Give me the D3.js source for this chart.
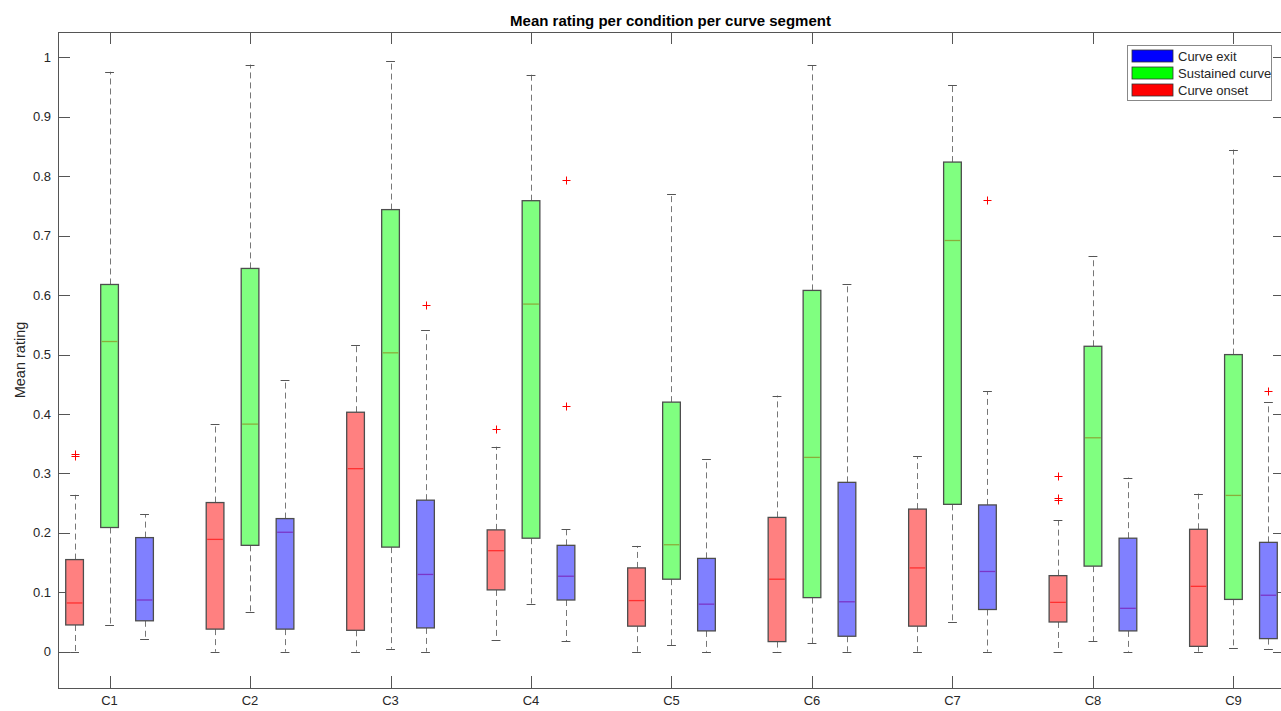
<!DOCTYPE html>
<html>
<head>
<meta charset="utf-8">
<script src="https://cdn.jsdelivr.net/npm/d3@7"></script>
<style>
  body { margin: 0; background: #fff; }
  text { font-family: "Liberation Sans", Arial, sans-serif; fill: #262626; }
</style>
</head>
<body>
<svg id="chart" width="1281" height="711"></svg>
<script>
const categories = ['C1', 'C2', 'C3', 'C4', 'C5', 'C6', 'C7', 'C8', 'C9'];
const yTicks = [0, 0.1, 0.2, 0.3, 0.4, 0.5, 0.6, 0.7, 0.8, 0.9, 1];

// five numbers per condition: [lower whisker, q1, median, q3, upper whisker]
const onsetStats = [
  [0, 0.045, 0.082, 0.155, 0.264],
  [0, 0.038, 0.189, 0.251, 0.384],
  [0, 0.036, 0.308, 0.403, 0.516],
  [0.020, 0.104, 0.170, 0.205, 0.345],
  [0, 0.043, 0.086, 0.141, 0.178],
  [0, 0.017, 0.122, 0.226, 0.431],
  [0, 0.043, 0.141, 0.240, 0.329],
  [0, 0.050, 0.083, 0.128, 0.221],
  [0, 0.009, 0.110, 0.206, 0.266]
];
const sustainedStats = [
  [0.045, 0.209, 0.522, 0.618, 0.976],
  [0.066, 0.179, 0.383, 0.645, 0.988],
  [0.005, 0.176, 0.503, 0.744, 0.994],
  [0.081, 0.191, 0.585, 0.759, 0.971],
  [0.011, 0.122, 0.180, 0.420, 0.771],
  [0.014, 0.091, 0.327, 0.608, 0.987],
  [0.050, 0.248, 0.692, 0.824, 0.954],
  [0.018, 0.144, 0.360, 0.514, 0.666],
  [0.007, 0.088, 0.263, 0.500, 0.845]
];
const exitStats = [
  [0.022, 0.052, 0.087, 0.192, 0.231],
  [0, 0.038, 0.201, 0.224, 0.458],
  [0, 0.040, 0.130, 0.255, 0.541],
  [0.018, 0.087, 0.127, 0.179, 0.207],
  [0, 0.035, 0.080, 0.157, 0.324],
  [0, 0.026, 0.084, 0.285, 0.618],
  [0, 0.071, 0.135, 0.247, 0.438],
  [0, 0.035, 0.073, 0.191, 0.293],
  [0.005, 0.022, 0.095, 0.184, 0.420]
];
// outliers: [condition index, value]
const onsetOutliers = [[0, 0.330], [0, 0.332], [3, 0.375], [7, 0.295], [7, 0.258], [7, 0.255]];
const sustainedOutliers = [];
const exitOutliers = [[2, 0.583], [3, 0.413], [3, 0.794], [6, 0.761], [8, 0.438]];

const series = [
  { name: 'Curve onset', stats: onsetStats, outliers: onsetOutliers, offset: -0.249,
    fill: '#ff8080', median: '#ff3030', swatch: '#ff0000' },
  { name: 'Sustained curve', stats: sustainedStats, outliers: sustainedOutliers, offset: 0,
    fill: '#80ff80', median: '#8aad3a', swatch: '#00ff00' },
  { name: 'Curve exit', stats: exitStats, outliers: exitOutliers, offset: 0.249,
    fill: '#8080ff', median: '#7a35c8', swatch: '#0000ff' }
];

const LEFT = 58, RIGHT = 1285, TOP = 32, BOTTOM = 688;
const BOXW = 0.126;
const TICKLEN = 12;

const svg = d3.select('#chart');

const x = d3.scaleLinear().domain([0.633, 9.367]).range([LEFT, RIGHT]);
const y = d3.scaleLinear().domain([-0.0611, 1.0429]).range([BOTTOM, TOP]);
const px = v => Math.round(v) + 0.5;

// axes box
const axisColor = '#555';
svg.append('rect')
  .attr('x', LEFT + 0.5).attr('y', TOP + 0.5)
  .attr('width', RIGHT - LEFT).attr('height', BOTTOM - TOP)
  .attr('fill', 'none').attr('stroke', axisColor).attr('stroke-width', 1);

// y ticks (both sides, inward)
const yt = svg.append('g');
yt.selectAll('line.l').data(yTicks).enter().append('line')
  .attr('x1', LEFT).attr('x2', LEFT + TICKLEN)
  .attr('y1', d => px(y(d))).attr('y2', d => px(y(d)))
  .attr('stroke', axisColor);
yt.selectAll('line.r').data(yTicks).enter().append('line')
  .attr('x1', RIGHT - TICKLEN).attr('x2', RIGHT)
  .attr('y1', d => px(y(d))).attr('y2', d => px(y(d)))
  .attr('stroke', axisColor);
yt.selectAll('text').data(yTicks).enter().append('text')
  .attr('x', LEFT - 7).attr('y', d => y(d)).attr('dy', '0.35em')
  .attr('text-anchor', 'end').style('font-size', '13px')
  .text(d => d3.format('')(d));

// x ticks (top and bottom, inward)
const xt = svg.append('g');
const catPos = categories.map((c, i) => i + 1);
xt.selectAll('line.b').data(catPos).enter().append('line')
  .attr('x1', d => px(x(d))).attr('x2', d => px(x(d)))
  .attr('y1', BOTTOM).attr('y2', BOTTOM - TICKLEN)
  .attr('stroke', axisColor);
xt.selectAll('line.t').data(catPos).enter().append('line')
  .attr('x1', d => px(x(d))).attr('x2', d => px(x(d)))
  .attr('y1', TOP).attr('y2', TOP + TICKLEN)
  .attr('stroke', axisColor);
xt.selectAll('text').data(categories).enter().append('text')
  .attr('x', (d, i) => x(i + 1)).attr('y', BOTTOM + 17)
  .attr('text-anchor', 'middle').style('font-size', '13px')
  .text(d => d);

// title & y label
svg.append('text')
  .attr('x', (LEFT + RIGHT) / 2 - 1).attr('y', 26)
  .attr('text-anchor', 'middle').style('font-size', '15px').style('font-weight', 'bold')
  .style('fill', '#000')
  .text('Mean rating per condition per curve segment');
svg.append('text')
  .attr('transform', `translate(25, ${(TOP + BOTTOM) / 2}) rotate(-90)`)
  .attr('text-anchor', 'middle').style('font-size', '14.5px')
  .text('Mean rating');

// boxes
series.forEach(s => {
  const g = svg.append('g');
  const rows = s.stats.map((st, i) => ({ pos: i + 1 + s.offset, st: st }));
  const enter = g.selectAll('g.box').data(rows).enter().append('g').attr('class', 'box');

  // whiskers (dashed)
  enter.append('line')
    .attr('x1', d => px(x(d.pos))).attr('x2', d => px(x(d.pos)))
    .attr('y1', d => y(d.st[3])).attr('y2', d => y(d.st[4]))
    .attr('stroke', '#777').attr('stroke-dasharray', '6,4');
  enter.append('line')
    .attr('x1', d => px(x(d.pos))).attr('x2', d => px(x(d.pos)))
    .attr('y1', d => y(d.st[1])).attr('y2', d => y(d.st[0]))
    .attr('stroke', '#777').attr('stroke-dasharray', '6,4');

  // caps
  [0, 4].forEach(k => {
    enter.append('line')
      .attr('x1', d => x(d.pos - BOXW / 4)).attr('x2', d => x(d.pos + BOXW / 4))
      .attr('y1', d => px(y(d.st[k]))).attr('y2', d => px(y(d.st[k])))
      .attr('stroke', '#555');
  });

  // box
  enter.append('rect')
    .attr('x', d => x(d.pos - BOXW / 2))
    .attr('width', d => x(d.pos + BOXW / 2) - x(d.pos - BOXW / 2))
    .attr('y', d => y(d.st[3]))
    .attr('height', d => y(d.st[1]) - y(d.st[3]))
    .attr('fill', s.fill).attr('stroke', '#4d4d4d').attr('stroke-width', 1.3);

  // median
  enter.append('line')
    .attr('x1', d => x(d.pos - BOXW / 2) + 1).attr('x2', d => x(d.pos + BOXW / 2) - 1)
    .attr('y1', d => y(d.st[2])).attr('y2', d => y(d.st[2]))
    .attr('stroke', s.median).attr('stroke-width', 1.3);

  // outliers
  g.selectAll('path.out').data(s.outliers).enter().append('path')
    .attr('class', 'out')
    .attr('d', d => {
      const cx = px(x(d[0] + 1 + s.offset)), cy = px(y(d[1]));
      return `M${cx - 4},${cy}H${cx + 4}M${cx},${cy - 4}V${cy + 4}`;
    })
    .attr('stroke', '#ff0000').attr('stroke-width', 1).attr('fill', 'none');
});

// legend (order: exit, sustained, onset)
const legendItems = series.slice().reverse();
const lg = svg.append('g').attr('transform', 'translate(1127, 45)');
lg.append('rect')
  .attr('x', 0.5).attr('y', 0.5).attr('width', 144).attr('height', 55)
  .attr('fill', '#fff').attr('stroke', '#888');
const li = lg.selectAll('g').data(legendItems).enter().append('g')
  .attr('transform', (d, i) => `translate(5, ${5 + i * 17})`);
li.append('rect')
  .attr('width', 41).attr('height', 12)
  .attr('fill', d => d.swatch).attr('stroke', '#333').attr('stroke-width', 0.8);
li.append('text')
  .attr('x', 46).attr('y', 6).attr('dy', '0.35em')
  .style('font-size', '13px')
  .text(d => d.name);
</script>
</body>
</html>
